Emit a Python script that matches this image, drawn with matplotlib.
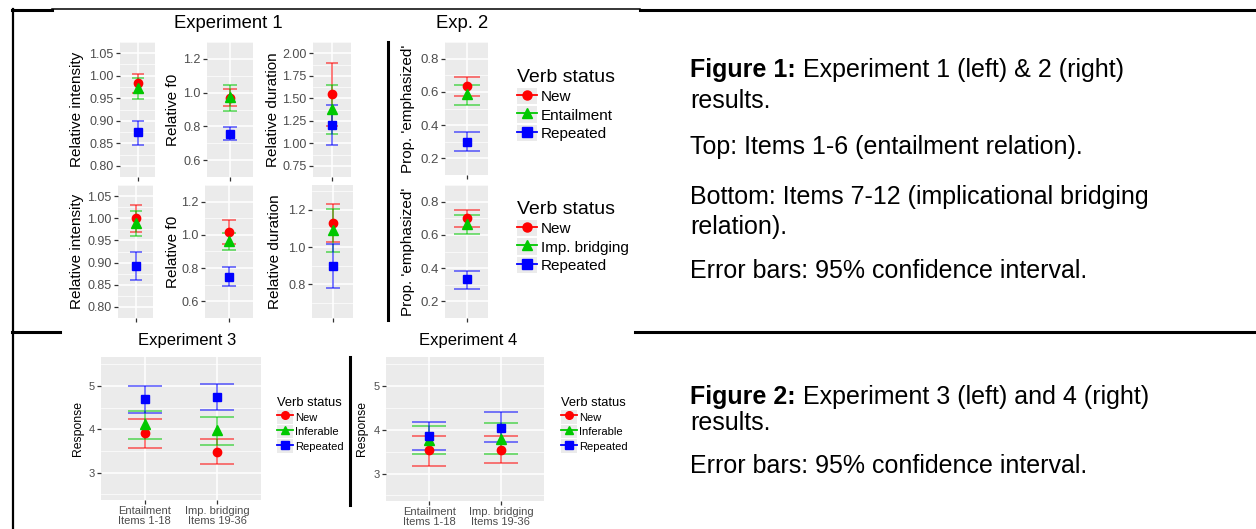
import numpy as np
import matplotlib
matplotlib.use('Agg')
import matplotlib.pyplot as plt
from matplotlib.lines import Line2D
from matplotlib.patches import Rectangle
from matplotlib.ticker import FormatStrFormatter

plt.rcParams['font.family'] = ['Liberation Sans', 'DejaVu Sans']

# ---------------- data ----------------
status_ent = ['New', 'Entailment', 'Repeated']
status_imp = ['New', 'Imp. bridging', 'Repeated']
status_34 = ['New', 'Inferable', 'Repeated']
relations = ['Entailment\nItems 1-18', 'Imp. bridging\nItems 19-36']

# Experiment 1, items 1-6 (New, Entailment, Repeated)
int_top = [0.983, 0.973, 0.874]
int_top_lo = [0.961, 0.948, 0.847]
int_top_hi = [1.004, 0.995, 0.900]
f0_top = [0.967, 0.972, 0.754]
f0_top_lo = [0.918, 0.890, 0.718]
f0_top_hi = [1.021, 1.043, 0.795]
dur_top = [1.550, 1.385, 1.203]
dur_top_lo = [1.197, 1.104, 0.982]
dur_top_hi = [1.896, 1.648, 1.424]

# Experiment 1, items 7-12 (New, Imp. bridging, Repeated)
int_bot = [1.000, 0.990, 0.893]
int_bot_lo = [0.970, 0.961, 0.861]
int_bot_hi = [1.030, 1.016, 0.924]
f0_bot = [1.016, 0.963, 0.747]
f0_bot_lo = [0.943, 0.910, 0.690]
f0_bot_hi = [1.089, 1.013, 0.805]
dur_bot = [1.129, 1.093, 0.898]
dur_bot_lo = [1.027, 0.975, 0.779]
dur_bot_hi = [1.230, 1.204, 1.018]

# Experiment 2, proportion emphasized
emph_top = [0.633, 0.589, 0.300]
emph_top_lo = [0.578, 0.523, 0.242]
emph_top_hi = [0.691, 0.641, 0.356]
emph_bot = [0.700, 0.665, 0.332]
emph_bot_lo = [0.646, 0.604, 0.276]
emph_bot_hi = [0.752, 0.717, 0.385]

# Experiments 3 and 4, per relation (Entailment, Imp. bridging)
exp3_new = [3.92, 3.48]
exp3_new_lo = [3.58, 3.19]
exp3_new_hi = [4.25, 3.78]
exp3_inf = [4.12, 3.98]
exp3_inf_lo = [3.78, 3.64]
exp3_inf_hi = [4.43, 4.28]
exp3_rep = [4.69, 4.75]
exp3_rep_lo = [4.385, 4.44]
exp3_rep_hi = [5.00, 5.05]

exp4_new = [3.53, 3.54]
exp4_new_lo = [3.18, 3.23]
exp4_new_hi = [3.85, 3.86]
exp4_inf = [3.77, 3.80]
exp4_inf_lo = [3.45, 3.44]
exp4_inf_hi = [4.09, 4.15]
exp4_rep = [3.85, 4.05]
exp4_rep_lo = [3.54, 3.72]
exp4_rep_hi = [4.17, 4.40]

colors = ['#FF0000', '#00C800', '#0000FF']
markers = ['o', '^', 's']

W, H = 1256, 529
fig = plt.figure(figsize=(W / 100, H / 100), dpi=100)
txt_ax = fig.add_axes([0, 0, 1, 1])
txt_ax.axis('off')


def panel(box, ylim, yticks, fmt, tsize):
    x0, y0, x1, y1 = box
    ax = fig.add_axes([x0 / W, 1 - y1 / H, (x1 - x0) / W, (y1 - y0) / H])
    ax.set_facecolor('#EBEBEB')
    for sp in ax.spines.values():
        sp.set_visible(False)
    ax.set_ylim(*ylim)
    ax.set_yticks(yticks)
    step = yticks[1] - yticks[0]
    ax.set_yticks(np.arange(yticks[0] - step / 2, yticks[-1] + step, step), minor=True)
    ax.yaxis.set_major_formatter(FormatStrFormatter(fmt))
    ax.grid(True, which='major', color='white', lw=1.1)
    ax.grid(True, which='minor', axis='y', color='white', lw=0.5)
    ax.set_axisbelow(True)
    ax.tick_params(which='minor', length=0)
    ax.tick_params(which='major', length=3, width=0.9, color='#333333',
                   labelsize=tsize, labelcolor='#4D4D4D', pad=1.5)
    return ax


def ylab(ax, box, text, xc, size):
    x0, y0, x1, y1 = box
    ax.set_ylabel(text, fontsize=size, va='center')
    ax.yaxis.set_label_coords((xc - x0) / (x1 - x0), 0.5)


def draw(ax, x, series, cap, ms):
    for (m, lo, hi), c in zip(series, colors):
        m, lo, hi = np.asarray(m), np.asarray(lo), np.asarray(hi)
        ax.errorbar(x, m, yerr=[m - lo, hi - m], fmt='none', ecolor=c, alpha=0.6,
                    elinewidth=1.2, capsize=cap, capthick=1.2)
    for (m, lo, hi), c, mk, s in zip(series, colors, markers, ms):
        ax.plot(x, m, ls='none', marker=mk, color=c, ms=s)


def legend(labels, x, y, tsize, fsize, key, ms, tpad):
    handles = []
    for c, mk, s in zip(colors, markers, ms):
        bg = Rectangle((0, 0), 1, 1, facecolor='#EBEBEB', edgecolor='none')
        ln = Line2D([], [], color=c, marker=mk, ms=s, lw=1.3)
        handles.append((bg, ln))
    fig.legend(handles, labels, loc='upper left', bbox_to_anchor=(x / W, 1 - y / H),
               frameon=False, title='Verb status', title_fontsize=tsize, fontsize=fsize,
               handlelength=key, handleheight=key, handletextpad=tpad, labelspacing=0.12,
               borderpad=0, borderaxespad=0, alignment='left', numpoints=1)


# ---------------- Experiment 1 ----------------
exp1 = [
    ((120, 42, 155, 177), 'Relative intensity', (0.7875, 1.0625),
     [0.80, 0.85, 0.90, 0.95, 1.00, 1.05], '%.2f', 77, 4.3,
     [(int_top, int_top_lo, int_top_hi)]),
    ((207, 42, 253, 177), 'Relative f0', (0.57, 1.23), [0.6, 0.8, 1.0, 1.2], '%.1f', 173, 5.0,
     [(f0_top, f0_top_lo, f0_top_hi)]),
    ((313, 42, 351, 177), 'Relative duration', (0.6875, 2.0625),
     [0.75, 1.00, 1.25, 1.50, 1.75, 2.00], '%.2f', 273, 4.6,
     [(dur_top, dur_top_lo, dur_top_hi)]),
    ((118, 185, 153, 318), 'Relative intensity', (0.7875, 1.0625),
     [0.80, 0.85, 0.90, 0.95, 1.00, 1.05], '%.2f', 77, 4.3,
     [(int_bot, int_bot_lo, int_bot_hi)]),
    ((205, 185, 253, 318), 'Relative f0', (0.57, 1.23), [0.6, 0.8, 1.0, 1.2], '%.1f', 173, 5.0,
     [(f0_bot, f0_bot_lo, f0_bot_hi)]),
    ((312, 185, 353, 318), 'Relative duration', (0.62, 1.333), [0.8, 1.0, 1.2], '%.1f', 275, 4.8,
     [(dur_bot, dur_bot_lo, dur_bot_hi)]),
    ((445, 42, 488, 175), "Prop. 'emphasized'", (0.183, 0.813), [0.2, 0.4, 0.6, 0.8], '%.1f', 408, 9.3,
     [(emph_top, emph_top_lo, emph_top_hi)]),
    ((445, 185, 488, 318), "Prop. 'emphasized'", (0.183, 0.813), [0.2, 0.4, 0.6, 0.8], '%.1f', 408, 9.3,
     [(emph_bot, emph_bot_lo, emph_bot_hi)]),
]

for box, lab, ylim, ticks, fmt, xc, cap, data in exp1:
    tsize = 9.5 if box[0] > 400 else 9
    ax = panel(box, ylim, ticks, fmt, tsize)
    ax.set_xlim(-0.6, 0.6)
    ax.set_xticks([0])
    ax.set_xticklabels([''])
    m, lo, hi = data[0]
    series = [([m[i]], [lo[i]], [hi[i]]) for i in range(3)]
    draw(ax, [0], series, cap, [6, 7, 6])
    ylab(ax, box, lab, xc, 11)

fig.text(228 / W, 1 - 23 / H, 'Experiment 1', ha='center', va='center', fontsize=13.3)
fig.text(462 / W, 1 - 23 / H, 'Exp. 2', ha='center', va='center', fontsize=13.3)
legend(status_ent, 517, 69, 14, 11, 1.3, [6.5, 7.5, 6.5], 0.28)
legend(status_imp, 517, 201, 14, 11, 1.3, [6.5, 7.5, 6.5], 0.28)

# ---------------- Experiments 3 and 4 ----------------
exp34 = [
    ((101, 357, 261, 500), 78, 187,
     [(exp3_new, exp3_new_lo, exp3_new_hi), (exp3_inf, exp3_inf_lo, exp3_inf_hi),
      (exp3_rep, exp3_rep_lo, exp3_rep_hi)], 'Experiment 3', 277),
    ((386, 357, 544, 501), 362, 468,
     [(exp4_new, exp4_new_lo, exp4_new_hi), (exp4_inf, exp4_inf_lo, exp4_inf_hi),
      (exp4_rep, exp4_rep_lo, exp4_rep_hi)], 'Experiment 4', 561),
]
for box, xc, tx, series, title, lx in exp34:
    ax = panel(box, (2.37, 5.67), [3, 4, 5], '%d', 8)
    ax.set_xlim(-0.6, 1.6)
    ax.set_xticks(range(len(relations)))
    ax.set_xticklabels(relations, linespacing=1.0)
    draw(ax, np.arange(len(relations)), series, 11.9, [6, 6.5, 6])
    ylab(ax, box, 'Response', xc, 8.8)
    fig.text(tx / W, 1 - 340 / H, title, ha='center', va='center', fontsize=12)
    legend(status_34, lx, 397, 9.3, 8, 1.45, [5.5, 6, 5.5], 0.2)

# ---------------- frame lines ----------------
def fline(xs, ys, lw):
    fig.add_artist(Line2D([x / W for x in xs], [1 - y / H for y in ys],
                          transform=fig.transFigure, color='black', lw=lw))

fline([12.5, 12.5], [9, 529], 1.6)
fline([12, 52], [10, 10], 2.2)
fline([52, 640], [9, 9], 1.1)
fline([640, 1256], [10, 10], 2.2)
fline([12, 60], [331.5, 331.5], 2.2)
fline([635, 1256], [331.5, 331.5], 2.2)
fline([388, 388], [42, 320], 2.2)
fline([350, 350], [357, 505], 2.2)

# ---------------- captions ----------------
captions = [
    (70, 'Figure 1:', ' Experiment 1 (left) & 2 (right)'),
    (101, '', 'results.'),
    (147, '', 'Top: Items 1-6 (entailment relation).'),
    (197, '', 'Bottom: Items 7-12 (implicational bridging'),
    (227, '', 'relation).'),
    (271, '', 'Error bars: 95% confidence interval.'),
    (397, 'Figure 2:', ' Experiment 3 (left) and 4 (right)'),
    (423, '', 'results.'),
    (466, '', 'Error bars: 95% confidence interval.'),
]
for y, bold, rest in captions:
    if bold:
        t = txt_ax.text(690 / W, 1 - y / H, bold, fontsize=18, fontweight='bold', va='center')
        txt_ax.annotate(rest, xy=(1, 0.5), xycoords=t, va='center', ha='left', fontsize=18)
    else:
        txt_ax.text(690 / W, 1 - y / H, rest, fontsize=18, va='center')

fig.savefig('out.png', dpi=100)
